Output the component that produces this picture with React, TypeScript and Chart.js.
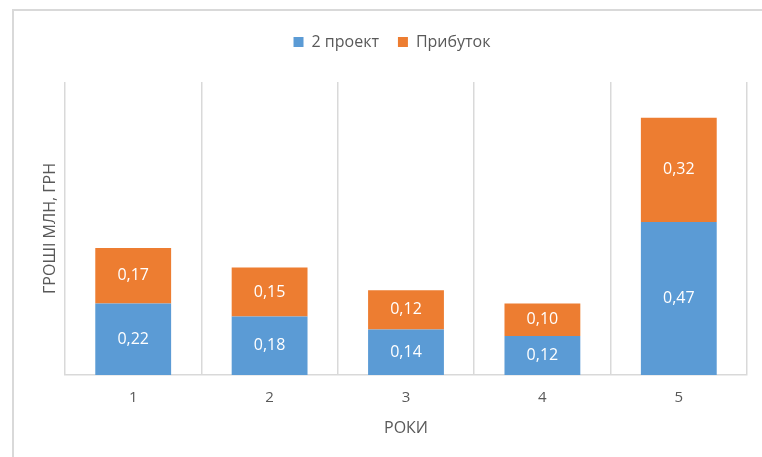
import { useEffect, useRef } from "react";
import { Chart, registerables } from "chart.js";

Chart.register(...registerables);

// Years on the category axis
const years = ["1", "2", "3", "4", "5"];
// Stacked series, millions UAH
const project2 = [0.22, 0.18, 0.14, 0.12, 0.47];
const profit = [0.17, 0.15, 0.12, 0.1, 0.32];
const seriesNames = ["2 проект", "Прибуток"];
const yTitle = "ГРОШІ МЛН, ГРН";
const xTitle = "РОКИ";

const FONT = "'Open Sans', 'Liberation Sans', sans-serif";
const GRID = "#d9d9d9";
const TEXT = "#595959";

// Adds space between the legend and the plot area
const legendGap = {
  id: "legendGap",
  beforeInit(chart: any) {
    const legend = chart.legend;
    if (!legend) return;
    const fit = legend.fit;
    legend.fit = function () {
      fit.call(this);
      this.height += 22;
    };
  },
};

// Writes each segment's value in the middle of its bar
const barValueLabels = {
  id: "barValueLabels",
  afterDatasetsDraw(chart: any) {
    const { ctx } = chart;
    ctx.save();
    ctx.fillStyle = "#ffffff";
    ctx.font = `16px ${FONT}`;
    ctx.textAlign = "center";
    ctx.textBaseline = "middle";
    chart.data.datasets.forEach((ds: any, i: number) => {
      const meta = chart.getDatasetMeta(i);
      meta.data.forEach((bar: any, j: number) => {
        const v = ds.data[j] as number;
        const text = v.toFixed(2).replace(".", ",");
        ctx.fillText(text, bar.x, (bar.y + bar.base) / 2);
      });
    });
    ctx.restore();
  },
};

export default function App() {
  const canvasRef = useRef<HTMLCanvasElement | null>(null);

  useEffect(() => {
    if (!canvasRef.current) return;
    const chart = new Chart(canvasRef.current, {
      type: "bar",
      data: {
        labels: years,
        datasets: [
          {
            label: seriesNames[0],
            data: project2,
            backgroundColor: "#5b9bd5",
            categoryPercentage: 1,
            barPercentage: 0.556,
          },
          {
            label: seriesNames[1],
            data: profit,
            backgroundColor: "#ed7d31",
            categoryPercentage: 1,
            barPercentage: 0.556,
          },
        ],
      },
      options: {
        animation: false,
        responsive: false,
        maintainAspectRatio: false,
        layout: { padding: { top: 15, left: 37, right: 15, bottom: 17 } },
        plugins: {
          legend: {
            position: "top",
            labels: {
              boxWidth: 10,
              boxHeight: 10,
              padding: 19,
              color: TEXT,
              font: { family: FONT, size: 16 },
            },
          },
          tooltip: { enabled: false },
        },
        scales: {
          x: {
            stacked: true,
            offset: true,
            grid: {
              offset: true,
              color: GRID,
              lineWidth: 1.5,
              drawTicks: false,
            },
            border: { color: GRID, width: 1.5 },
            ticks: {
              color: TEXT,
              padding: 14,
              font: { family: FONT, size: 15 },
            },
            title: {
              display: true,
              text: xTitle,
              color: TEXT,
              padding: { top: 0, bottom: 2 },
              font: { family: FONT, size: 16 },
            },
            afterFit(scale: any) {
              scale.height = 65;
            },
          },
          y: {
            stacked: true,
            min: 0,
            max: 0.9,
            grid: { display: false },
            border: { display: false },
            ticks: { display: false },
            title: {
              display: true,
              text: yTitle,
              color: TEXT,
              padding: { top: 4, bottom: 0 },
              font: { family: FONT, size: 16 },
            },
            afterFit(scale: any) {
              scale.width = 28;
            },
          },
        },
      },
      plugins: [legendGap, barValueLabels],
    });
    return () => chart.destroy();
  }, []);

  return (
    <div
      style={{
        position: "absolute",
        left: 0,
        top: 0,
        width: 762,
        height: 457,
        overflow: "hidden",
        background: "#ffffff",
      }}
    >
      <div
        style={{
          position: "absolute",
          left: 12,
          top: 9,
          width: 800,
          height: 500,
          border: `2px solid ${GRID}`,
          boxSizing: "border-box",
        }}
      />
      <canvas
        ref={canvasRef}
        width={762}
        height={457}
        style={{ position: "absolute", left: 0, top: 0 }}
      />
    </div>
  );
}
